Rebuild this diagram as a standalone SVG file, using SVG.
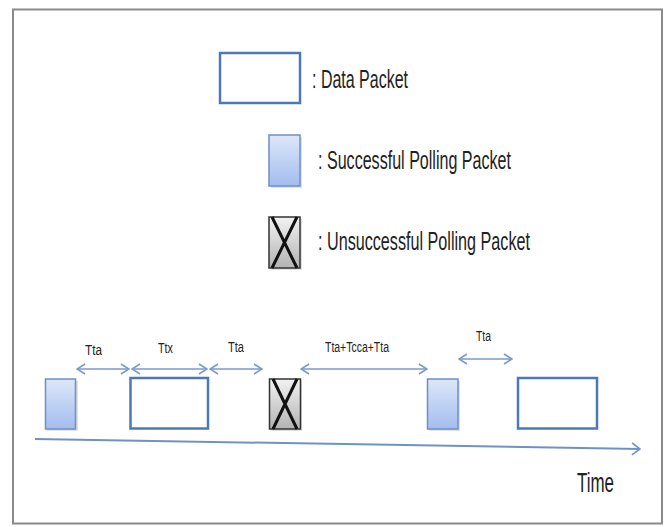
<svg xmlns="http://www.w3.org/2000/svg" width="667" height="527" viewBox="0 0 667 527">
<defs>
<linearGradient id="gBlue" x1="0" y1="0" x2="0" y2="1">
<stop offset="0" stop-color="#dde7f9"/>
<stop offset="1" stop-color="#a3bdee"/>
</linearGradient>
<linearGradient id="gGray" x1="0" y1="0" x2="0" y2="1">
<stop offset="0" stop-color="#f2f2f2"/>
<stop offset="1" stop-color="#b3b3b3"/>
</linearGradient>
<marker id="chev" viewBox="0 0 10 12" refX="9" refY="6" markerWidth="10" markerHeight="12" markerUnits="userSpaceOnUse" orient="auto-start-reverse">
<path d="M1,1 L9,6 L1,11" fill="none" stroke="#7a9acb" stroke-width="1.6"/>
</marker>
<marker id="chevT" viewBox="0 0 10 14" refX="9" refY="7" markerWidth="10" markerHeight="14" markerUnits="userSpaceOnUse" orient="auto">
<path d="M1,1 L9,7 L1,13" fill="none" stroke="#6f92c6" stroke-width="1.6"/>
</marker>
</defs>
<style>
.data{fill:#fff;stroke:#4d78b8;stroke-width:2.5}
.succ{fill:url(#gBlue);stroke:#6e8fc6;stroke-width:1.5}
.fail{fill:url(#gGray);stroke:#333;stroke-width:1.5}
.x{stroke:#111;stroke-width:3;fill:none}
.shadow{fill:#000;opacity:0.12}
.dim{stroke:#7a9acb;stroke-width:1.6;fill:none;marker-start:url(#chev);marker-end:url(#chev)}
.lbl{font-family:"Liberation Sans Narrow","Liberation Sans",Arial,sans-serif;fill:#222}
.leg{font-size:25px}
.small{font-size:14px}
</style>
<rect x="0" y="0" width="667" height="527" fill="#fff"/>
<rect x="13" y="9.5" width="649" height="514" fill="#fff" stroke="#8a8a8a" stroke-width="2"/>

<g id="legend-data">
<rect class="data" x="220" y="53" width="80" height="50"/>
<text class="lbl leg" x="312" y="88" textLength="96" lengthAdjust="spacingAndGlyphs">: Data Packet</text>
</g>
<g id="legend-success">
<rect class="shadow" x="271" y="137" width="31" height="51"/>
<rect class="succ" x="269" y="135" width="31" height="51"/>
<text class="lbl leg" x="318" y="169" textLength="193" lengthAdjust="spacingAndGlyphs">: Successful Polling Packet</text>
</g>
<g id="legend-fail">
<rect class="shadow" x="271" y="219" width="31" height="51"/>
<rect class="fail" x="269" y="217" width="31" height="51"/>
<path class="x" d="M272,217 L297,268 M297,217 L272,268"/>
<text class="lbl leg" x="318" y="250" textLength="212" lengthAdjust="spacingAndGlyphs">: Unsuccessful Polling Packet</text>
</g>

<g id="p1">
<rect class="shadow" x="47" y="381" width="31" height="50"/>
<rect class="succ" x="45.5" y="379" width="30" height="50"/>
</g>
<g id="p2">
<rect class="data" x="130.5" y="378" width="77.5" height="50.5"/>
</g>
<g id="p3">
<rect class="shadow" x="271" y="381" width="31" height="50"/>
<rect class="fail" x="269.5" y="379" width="31" height="50"/>
<path class="x" d="M273,379 L297,429 M297,379 L273,429"/>
</g>
<g id="p4">
<rect class="shadow" x="429" y="381" width="31" height="50"/>
<rect class="succ" x="427.5" y="379" width="30.5" height="50"/>
</g>
<g id="p5">
<rect class="data" x="518" y="378" width="79" height="50.5"/>
</g>

<g id="connectors">
<line class="dim" x1="77" y1="369" x2="129" y2="369"/>
<line class="dim" x1="132" y1="369" x2="207" y2="369"/>
<line class="dim" x1="210" y1="369" x2="262" y2="369"/>
<line class="dim" x1="301" y1="369" x2="427" y2="369"/>
<line class="dim" x1="459" y1="359" x2="512" y2="359"/>
<line x1="35" y1="439" x2="640" y2="449" stroke="#6f92c6" stroke-width="2" marker-end="url(#chevT)"/>
</g>

<g id="labels">
<text class="lbl small" x="85" y="355" textLength="17" lengthAdjust="spacingAndGlyphs">Tta</text>
<text class="lbl small" x="158" y="353" textLength="15" lengthAdjust="spacingAndGlyphs">Ttx</text>
<text class="lbl small" x="228" y="352" textLength="16" lengthAdjust="spacingAndGlyphs">Tta</text>
<text class="lbl small" x="325" y="352" textLength="64" lengthAdjust="spacingAndGlyphs">Tta+Tcca+Tta</text>
<text class="lbl small" x="476" y="341" textLength="15" lengthAdjust="spacingAndGlyphs">Tta</text>
<text class="lbl" x="577" y="492" font-size="27" textLength="37" lengthAdjust="spacingAndGlyphs">Time</text>
</g>
</svg>
